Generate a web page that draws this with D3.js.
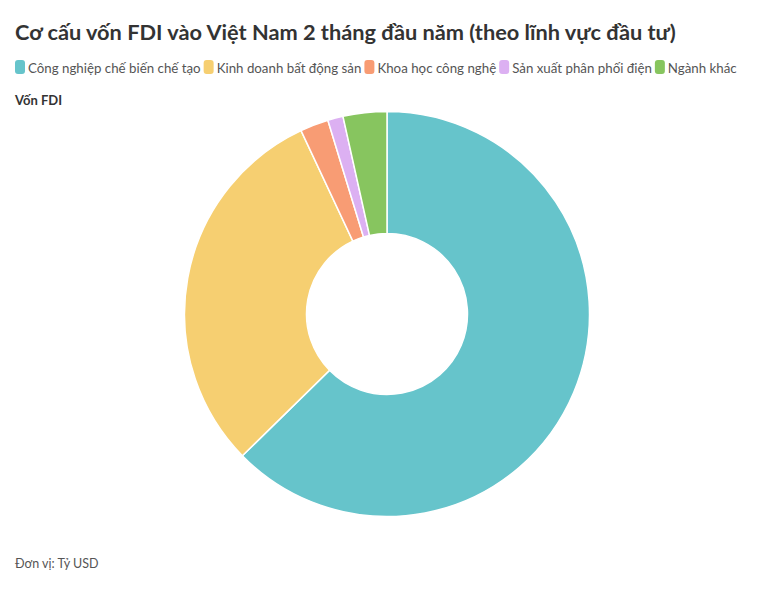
<!DOCTYPE html>
<html>
<head>
<meta charset="utf-8">
<script src="https://cdn.jsdelivr.net/npm/d3@7"></script>
<style>
  html, body { margin: 0; padding: 0; background: #fff; }
  svg { display: block; font-family: Lato, "Open Sans", sans-serif; }
</style>
</head>
<body>
<svg id="chart" width="769" height="606"></svg>
<script>
const categories = ["Công nghiệp chế biến chế tạo", "Kinh doanh bất động sản", "Khoa học công nghệ", "Sản xuất phân phối điện", "Ngành khác"];
const values = [1.94, 0.94, 0.07, 0.038, 0.108];
const colors = ["#66c4cb", "#f6cf71", "#f89c74", "#dcb0f2", "#87c55f"];
const titleText = "Cơ cấu vốn FDI vào Việt Nam 2 tháng đầu năm (theo lĩnh vực đầu tư)";
const subtitleText = "Vốn FDI";
const footerText = "Đơn vị: Tỷ USD";

const svg = d3.select("#chart");

// Title, fitted to reference width
const title = svg.append("text")
  .attr("x", 15).attr("y", 40)
  .attr("font-weight", 700).attr("font-size", 22)
  .attr("fill", "#333")
  .text(titleText);
{
  const w = title.node().getComputedTextLength();
  title.attr("font-size", 22 * 661 / w);
}

// Legend
const legend = svg.append("g");
const color = d3.scaleOrdinal().domain(categories).range(colors);
function layoutLegend(fs) {
  legend.selectAll("*").remove();
  let x = 15;
  categories.forEach(c => {
    legend.append("rect").attr("x", x).attr("y", 60).attr("width", 10).attr("height", 14)
      .attr("rx", 3).attr("fill", color(c));
    const t = legend.append("text").attr("x", x + 13).attr("y", 72.5)
      .attr("font-size", fs).attr("fill", "#555").text(c);
    x += 13 + t.node().getComputedTextLength() + 3;
  });
  return x - 3;
}
{
  const end = layoutLegend(13);
  const swatchW = categories.length * 13 + (categories.length - 1) * 3;
  const textW = end - 15 - swatchW;
  const targetText = (737 - 15) - swatchW;
  layoutLegend(13 * targetText / textW);
}

svg.append("text").attr("x", 15).attr("y", 105)
  .attr("font-weight", 700).attr("font-size", 13).attr("fill", "#333")
  .text(subtitleText);

// Donut
const cx = 387, cy = 314, outerR = 202.5, innerR = 80.5;
const pie = d3.pie().sort(null).value(d => d.v);
const arc = d3.arc().innerRadius(innerR).outerRadius(outerR);
const data = categories.map((c, i) => ({ c, v: values[i] }));

svg.append("g").attr("transform", `translate(${cx},${cy})`)
  .selectAll("path").data(pie(data)).join("path")
  .attr("d", arc)
  .attr("fill", d => color(d.data.c))
  .attr("stroke", "#fff").attr("stroke-width", 1.5);

svg.append("text").attr("x", 15).attr("y", 568)
  .attr("font-size", 12.5).attr("fill", "#555")
  .text(footerText);
</script>
</body>
</html>
